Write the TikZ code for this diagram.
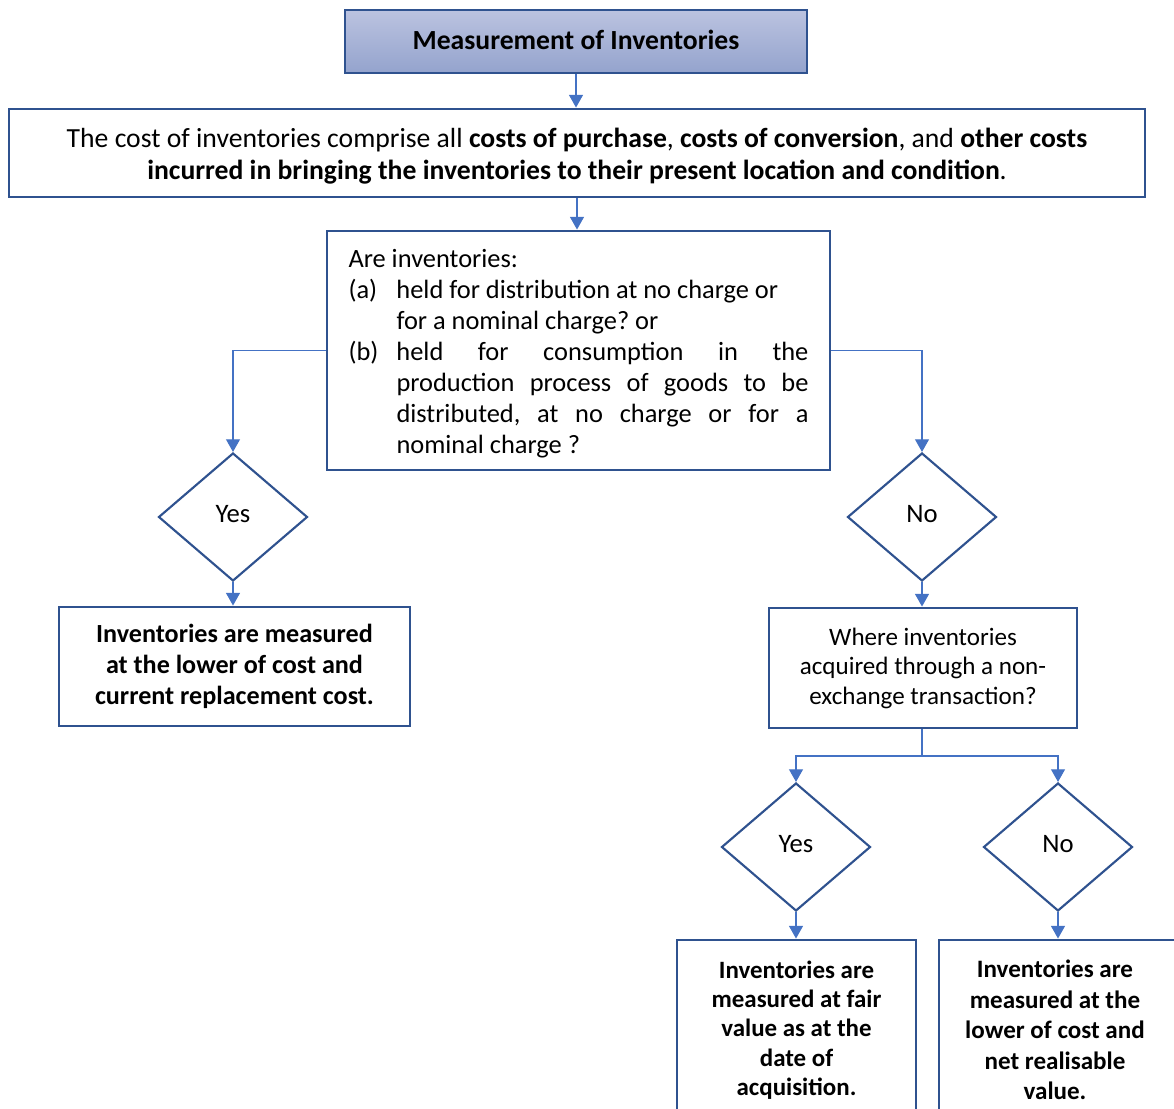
\documentclass[tikz,border=0pt]{standalone}
\usepackage{fontspec}
\setmainfont{Carlito}
\usepackage{xcolor}
\usepackage{tikz}
\usetikzlibrary{shapes.geometric,arrows.meta}

\definecolor{boxblue}{RGB}{47,82,143}
\definecolor{lineblue}{RGB}{68,114,196}
\definecolor{titletop}{RGB}{187,195,224}
\definecolor{titlebot}{RGB}{148,163,205}
\newlength\pxu
\setlength\pxu{0.75pt}

\begin{document}
\begin{tikzpicture}[x=0.75pt,y=-0.75pt,
    box/.style={draw=boxblue,line width=2.2pt,fill=white,align=center,inner sep=0pt,
        font=\fontsize{20.75}{23.25}\selectfont},
    decision/.style={diamond,draw=boxblue,line width=1.6pt,fill=white,inner sep=0pt,
        minimum width=149\pxu,minimum height=128\pxu,font=\fontsize{20}{23.25}\selectfont},
    conn/.style={draw=lineblue,line width=0.9pt,-{Triangle[length=9.5pt,width=10.5pt]}}]

    \useasboundingbox (0,0) rectangle (1174,1109);
    \clip (0,0) rectangle (1174,1109);

    % boxes
    \node[box,top color=titletop,bottom color=titlebot,minimum width=462\pxu,minimum height=63\pxu,
        font=\bfseries\fontsize{20.75}{23.25}\selectfont] (title) at (576,41.5)
        {\raisebox{2\pxu}[\height][\depth]{Measurement of Inventories}};
    \node[box,minimum width=1136\pxu,minimum height=88\pxu,font=\fontsize{20.75}{24}\selectfont] (cost) at (577,153)
        {\raisebox{-3\pxu}[\height][\depth]{\parbox{1100\pxu}{\centering
         The cost of inventories comprise all \textbf{costs of purchase}, \textbf{costs of conversion}, and \textbf{other costs}\\
         \textbf{incurred in bringing the inventories to their present location and condition}.}}};
    \node[box,minimum width=503\pxu,minimum height=239\pxu,font=\fontsize{19.8}{23.25}\selectfont] (question) at (578.5,350.5)
        {\raisebox{-3.5\pxu}[\height][\depth]{\parbox{460\pxu}{\frenchspacing
         Are inventories:\\
         \makebox[48\pxu][l]{(a)}held for distribution at no charge or\\
         \hspace*{48\pxu}for a nominal charge? or\\
         \makebox[48\pxu][l]{(b)}\makebox[412\pxu][s]{held for consumption in the}\\
         \hspace*{48\pxu}\makebox[412\pxu][s]{production process of goods to be}\\
         \hspace*{48\pxu}\makebox[412\pxu][s]{distributed, at no charge or for a}\\
         \hspace*{48\pxu}nominal charge ?}}};

    \node[decision] (yes1) at (233,517) {\raisebox{3\pxu}[\height][\depth]{Yes}};
    \node[decision] (no1) at (922,517) {\raisebox{3\pxu}[\height][\depth]{No}};

    \node[box,minimum width=351\pxu,minimum height=119\pxu,font=\bfseries\fontsize{19.6}{23.25}\selectfont] (lowcost) at (234.5,666.5)
        {Inventories are measured\\ at the lower of cost and\\ current replacement cost.};
    \node[box,minimum width=308\pxu,minimum height=120\pxu,font=\fontsize{18.8}{22.1}\selectfont] (where) at (923,668)
        {Where inventories\\ acquired through a non-\\ exchange transaction?};

    \node[decision] (yes2) at (796,847) {\raisebox{3\pxu}[\height][\depth]{Yes}};
    \node[decision] (no2) at (1058,847) {\raisebox{3\pxu}[\height][\depth]{No}};

    \node[box,minimum width=239\pxu,minimum height=180\pxu,font=\bfseries\fontsize{18.7}{22}\selectfont] (fair) at (796.5,1030)
        {Inventories are\\ measured at fair\\ value as at the\\ date of\\ acquisition.};
    \node[box,minimum width=244\pxu,minimum height=180\pxu,font=\bfseries\fontsize{18.8}{22.9}\selectfont] (nrv) at (1061,1030)
        {\parbox{210\pxu}{\centering Inventories are\\ measured at the\\ lower of cost and\\ net realisable\\ value.}\hspace*{12\pxu}};

    % connectors
    \draw[conn] (title.south) -- (title.south |- cost.north);
    \draw[conn] (cost.south) -- (cost.south |- question.north);
    \draw[conn] (question.west) -| (yes1.north);
    \draw[conn] (question.east) -| (no1.north);
    \draw[conn] (yes1.south) -- (lowcost.north -| yes1.south);
    \draw[conn] (no1.south) -- (no1.south |- where.north);
    \coordinate (split) at (922,756);
    \draw[draw=lineblue,line width=0.9pt] (where.south -| split) -- (split);
    \draw[conn] (split) -| (yes2.north);
    \draw[conn] (split) -| (no2.north);
    \draw[conn] (yes2.south) -- (yes2.south |- fair.north);
    \draw[conn] (no2.south) -- (no2.south |- nrv.north);
\end{tikzpicture}
\end{document}
